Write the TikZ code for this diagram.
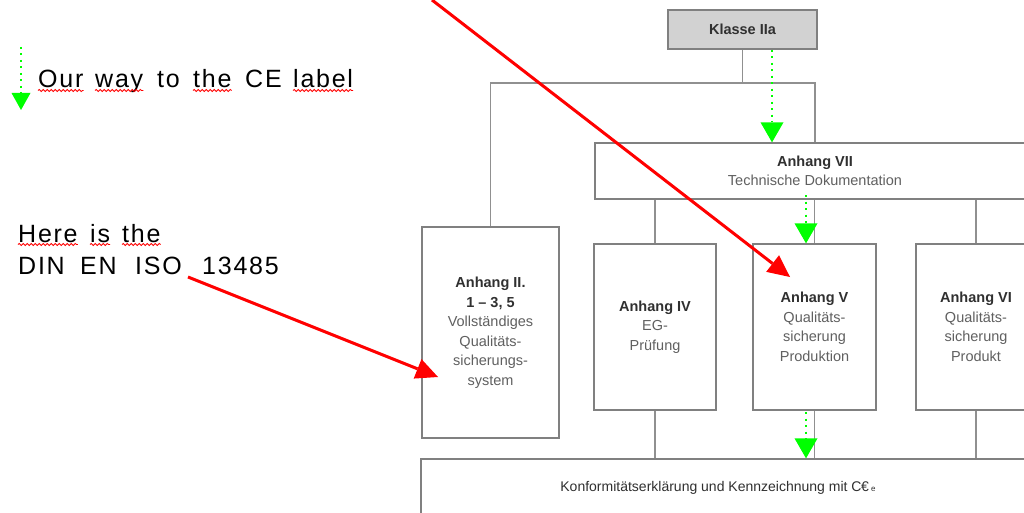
\documentclass[tikz,border=0pt]{standalone}
\usepackage{fontspec}
\setmainfont{Liberation Sans}
\newfontfamily\legendfont[LetterSpace=7]{Liberation Sans}
\usetikzlibrary{arrows.meta,decorations.pathmorphing,calc}
\definecolor{boxline}{HTML}{808080}
\definecolor{connline}{HTML}{909090}
\definecolor{titlecol}{HTML}{303030}
\definecolor{bodycol}{HTML}{606060}
\definecolor{ourgreen}{HTML}{00FF00}
\definecolor{ourred}{HTML}{FF0000}
\definecolor{klassefill}{HTML}{D2D2D2}
\begin{document}
\begin{tikzpicture}[x=1pt,y=-1pt,
  box/.style={draw=boxline,line width=1.3pt,fill=white,inner sep=0pt,align=center,
    font=\fontsize{14.5}{19.5}\selectfont,text=bodycol},
  connector/.style={draw=connline,line width=1.3pt},
  greenarrow/.style={draw=ourgreen,line width=2pt,dash pattern=on 2pt off 4.5pt,
    -{Triangle[width=23pt,length=20pt,line width=0pt,fill=ourgreen]}},
  redarrow/.style={draw=ourred,line width=3pt,
    -{Triangle[width=21pt,length=22pt,line width=0pt,fill=ourred]}},
  word/.style={anchor=base west,inner sep=0pt,font=\legendfont\fontsize{25}{30}\selectfont,text=black},
  squiggle/.style={draw=ourred,line width=0.8pt,decorate,
    decoration={snake,amplitude=1.1pt,segment length=4pt}}
]
\useasboundingbox (0,0) rectangle (1024,513);
\fill[white] (0,0) rectangle (1024,513);

% ---- boxes ----
\node[box,fill=klassefill,draw=boxline,minimum width=149pt,minimum height=39pt,text=titlecol,font=\fontsize{14.5}{16}\selectfont\bfseries]
  (klasse) at (742.5,29.5) {Klasse IIa};
\node[box,minimum width=440pt,minimum height=56pt] (a7) at (815,171)
  {{\color{titlecol}\bfseries Anhang VII}\\Technische Dokumentation};
\node[box,minimum width=137pt,minimum height=211pt] (a2) at (490.5,332.5)
  {{\color{titlecol}\bfseries Anhang II.}\\{\color{titlecol}\bfseries 1 -- 3, 5}\\Vollständiges\\Qualitäts-\\sicherungs-\\system};
\node[box,minimum width=122pt,minimum height=166pt] (a4) at (655,327)
  {{\color{titlecol}\bfseries Anhang IV}\\EG-\\Prüfung};
\node[box,minimum width=123pt,minimum height=166pt] (a5) at (814.5,327)
  {{\color{titlecol}\bfseries Anhang V}\\Qualitäts-\\sicherung\\Produktion};
\node[box,minimum width=120pt,minimum height=166pt] (a6) at (976,327)
  {{\color{titlecol}\bfseries Anhang VI}\\Qualitäts-\\sicherung\\Produkt};
\node[box,minimum width=619pt,minimum height=101pt] (bottom) at (730.5,509.5) {};
\node[inner sep=0pt,text=titlecol,font=\fontsize{14}{16}\selectfont] (bottomtext) at (718,488)
  {Konformitätserklärung und Kennzeichnung mit C\kern-0.5pt€\,{\fontsize{8}{8}\selectfont e}};

% ---- connectors ----
\coordinate (bracket) at (742.5,83);
\draw[connector] (klasse.south) -- (bracket);
\draw[connector] (a2.north) |- (bracket) -| (a7.north);
\draw[connector] (a7.south -| a4.north) -- (a4.north);
\draw[connector] (a7.south -| a5.north) -- (a5.north);
\draw[connector] (a7.south -| a6.north) -- (a6.north);
\draw[connector] (a4.south) -- (a4.south |- bottom.north);
\draw[connector] (a5.south) -- (a5.south |- bottom.north);
\draw[connector] (a6.south) -- (a6.south |- bottom.north);

% ---- legend text ----
\node[word] (w1) at (38,88) {Our};
\node[word] (w2) at (95,88) {way};
\node[word] (w3) at (157,88) {to};
\node[word] (w4) at (193,88) {the};
\node[word] (w5) at (245,88) {CE};
\node[word] (w6) at (293,88) {label};
\node[word] (h1) at (18,242) {Here};
\node[word] (h2) at (90,242) {is};
\node[word] (h3) at (122,242) {the};
\node[word] (d1) at (18,274) {DIN};
\node[word] (d2) at (80,274) {EN};
\node[word] (d3) at (135,274) {ISO};
\node[word] (d4) at (202,274) {13485};
\foreach \w in {w1,w2,w4,w6,h1,h2,h3}{
  \draw[squiggle] ([yshift=-2.5pt]\w.base west) -- ([yshift=-2.5pt]\w.base east);
}

% ---- green arrows ----
\coordinate (lgs) at (21,47);
\coordinate (lge) at (21,110);
\draw[greenarrow,-{Triangle[width=19pt,length=17pt,line width=0pt,fill=ourgreen]}] (lgs) -- (lge);
\coordinate (g1) at (772,0);
\draw[greenarrow] (klasse.south -| g1) -- (a7.north -| g1);
\coordinate (g2) at (806,195);
\draw[greenarrow] (g2) -- (a5.north -| g2);
\coordinate (g3) at (806,412);
\draw[greenarrow] (g3) -- (bottom.north -| g3);

% ---- red arrows ----
\coordinate (r1s) at (432,0);
\coordinate (r1e) at (790,277);
\draw[redarrow] (r1s) -- (r1e);
\coordinate (r2s) at (188,277);
\coordinate (r2e) at (438,377);
\draw[redarrow] (r2s) -- (r2e);
\end{tikzpicture}
\end{document}
